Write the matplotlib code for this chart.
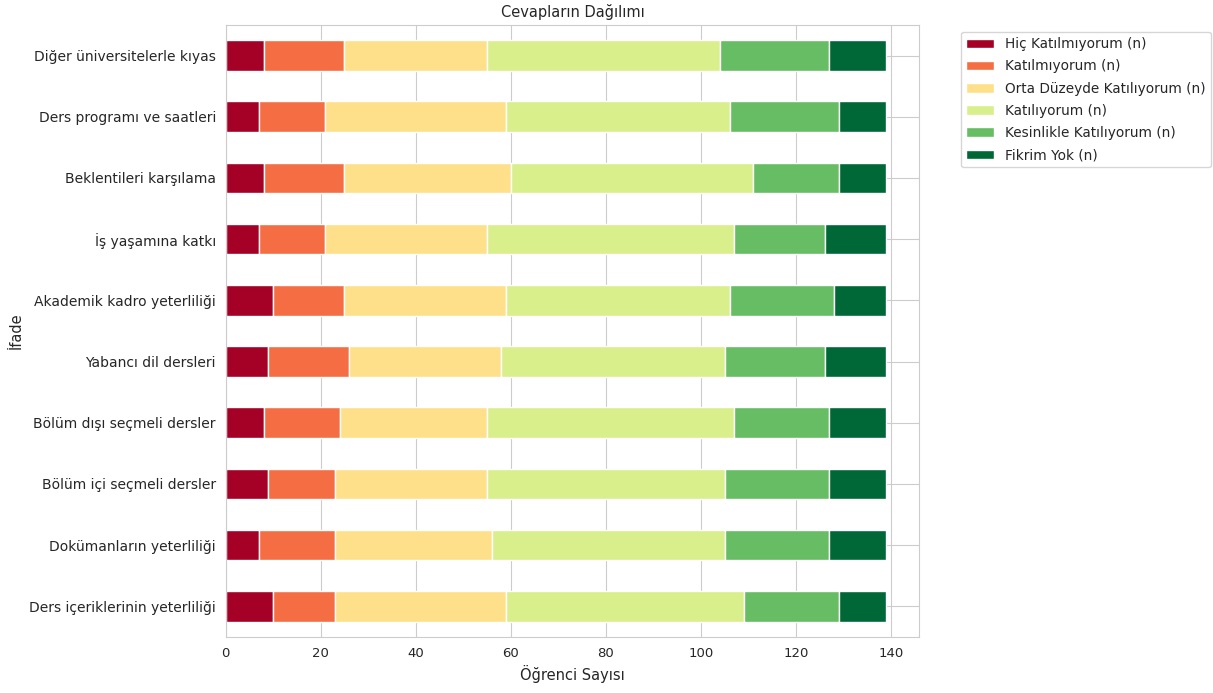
import pandas as pd
import numpy as np
import matplotlib
matplotlib.use('Agg')
import matplotlib.pyplot as plt
import seaborn as sns

sns.set_style('whitegrid')
plt.rcParams['font.family'] = ['DejaVu Sans']

# bottom row first (pandas barh draws first row at the bottom)
statements = ['Ders içeriklerinin yeterliliği', 'Dokümanların yeterliliği',
              'Bölüm içi seçmeli dersler', 'Bölüm dışı seçmeli dersler',
              'Yabancı dil dersleri', 'Akademik kadro yeterliliği',
              'İş yaşamına katkı', 'Beklentileri karşılama',
              'Ders programı ve saatleri', 'Diğer üniversitelerle kıyas']

hic = [10, 7, 9, 8, 9, 10, 7, 8, 7, 8]
katilmiyorum = [13, 16, 14, 16, 17, 15, 14, 17, 14, 17]
orta = [36, 33, 32, 31, 32, 34, 34, 35, 38, 30]
katiliyorum = [50, 49, 50, 52, 47, 47, 52, 51, 47, 49]
kesinlikle = [20, 22, 22, 20, 21, 22, 19, 18, 23, 23]
fikrim_yok = [10, 12, 12, 12, 13, 11, 13, 10, 10, 12]

df = pd.DataFrame({
    'Hiç Katılmıyorum (n)': hic,
    'Katılmıyorum (n)': katilmiyorum,
    'Orta Düzeyde Katılıyorum (n)': orta,
    'Katılıyorum (n)': katiliyorum,
    'Kesinlikle Katılıyorum (n)': kesinlikle,
    'Fikrim Yok (n)': fikrim_yok,
}, index=statements)

fig, ax = plt.subplots(figsize=(12.13, 6.93), dpi=100)
fig.subplots_adjust(left=0.186, right=0.758, top=0.964, bottom=0.081)

df.plot(kind='barh', stacked=True, colormap='RdYlGn', ax=ax,
        edgecolor='white', linewidth=1)

ax.set_title('Cevapların Dağılımı', fontsize=10.5)
ax.set_xlabel('Öğrenci Sayısı', fontsize=10.5)
ax.set_ylabel('İfade', fontsize=10.5)
ax.tick_params(axis='y', labelsize=10)
ax.tick_params(axis='x', labelsize=9.5)
ax.legend(bbox_to_anchor=(1.05, 1), loc='upper left', fontsize=9.8,
          labelspacing=0.6)

plt.savefig('out.png', dpi=100)
